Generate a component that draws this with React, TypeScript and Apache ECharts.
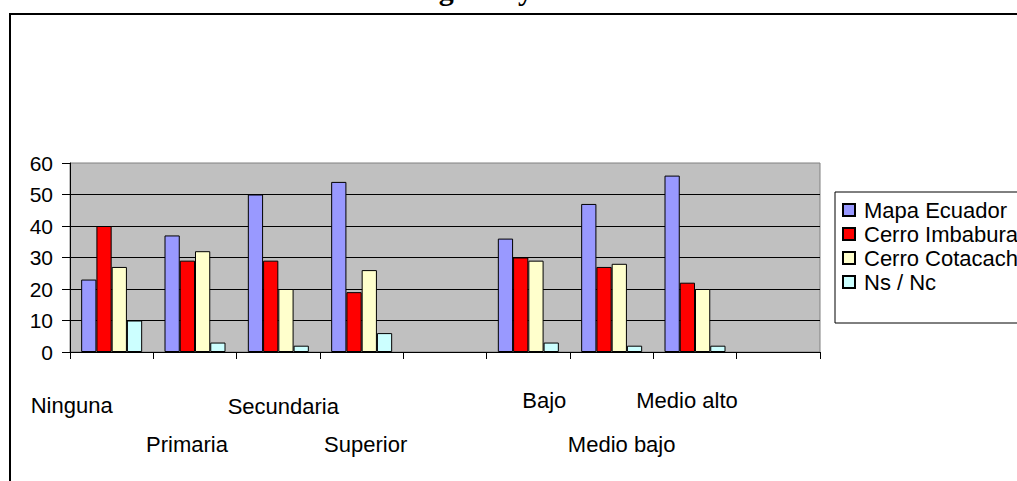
import React, { useEffect, useRef } from "react";
import * as echarts from "echarts";

const categories = ["Ninguna", "Primaria", "Secundaria", "Superior", "", "Bajo", "Medio bajo", "Medio alto", ""];
const seriesNames = ["Mapa Ecuador", "Cerro Imbabura", "Cerro Cotacachi", "Ns / Nc"];
const mapaEcuador = [23, 37, 50, 54, null, 36, 47, 56, null];
const cerroImbabura = [40, 29, 29, 19, null, 30, 27, 22, null];
const cerroCotacachi = [27, 32, 20, 26, null, 29, 28, 20, null];
const nsNc = [10, 3, 2, 6, null, 3, 2, 2, null];
const yTicks = [0, 10, 20, 30, 40, 50, 60];
const titleText = "Indígenas y mestizos";

// layout only: staggered label offsets (dx, dy) per category
const labelDx = [-40, -8, 5, 4, 0, 16, 10, -8, 0];
const labelDy = [2, 41, 3, 41, 0, -3, 41, -3, 0];

const colors = ["#9999FF", "#FF0000", "#FFFFCC", "#CCFFFF"];
const FONT = "'Liberation Sans', Arial, sans-serif";

export default function App() {
  const ref = useRef<HTMLDivElement>(null);
  useEffect(() => {
    document.body.style.margin = "0";
    if (!ref.current) return;
    const chart = echarts.init(ref.current, null, { renderer: "svg" });
    const rich: Record<string, any> = {};
    categories.forEach((_, i) => {
      const dx = labelDx[i];
      rich["c" + i] = {
        fontSize: 22,
        fontFamily: FONT,
        color: "#000",
        padding: [Math.max(0, labelDy[i] + 4), dx < 0 ? -2 * dx : 0, 0, dx > 0 ? 2 * dx : 0],
      };
    });
    const data = [mapaEcuador, cerroImbabura, cerroCotacachi, nsNc];
    chart.setOption({
      animation: false,
      backgroundColor: "#fff",
      graphic: [
        {
          type: "rect",
          shape: { x: 10, y: 14, width: 1200, height: 700 },
          style: { fill: "none", stroke: "#000", lineWidth: 2 },
          z: 100,
        },
        {
          type: "text",
          x: 517,
          y: 4,
          style: {
            text: titleText,
            font: "bold 30px 'Liberation Serif', 'Times New Roman', serif",
            fill: "#000",
            textAlign: "center",
            textVerticalAlign: "bottom",
          },
        },
      ],
      grid: {
        left: 70,
        right: 197,
        top: 163,
        bottom: 129,
        show: true,
        backgroundColor: "#C0C0C0",
        borderColor: "#808080",
        borderWidth: 1,
      },
      legend: {
        orient: "vertical",
        left: 835,
        top: 192,
        itemWidth: 12,
        itemHeight: 12,
        itemGap: 2,
        padding: [7, 80, 30, 7],
        backgroundColor: "#fff",
        borderColor: "#000",
        borderWidth: 1,
        icon: "rect",
        textStyle: { fontSize: 22, fontFamily: FONT, color: "#000", padding: [0, 0, 0, 4] },
        data: seriesNames,
      },
      xAxis: {
        type: "category",
        data: categories,
        axisLine: { lineStyle: { color: "#000", width: 1 } },
        axisTick: { show: true, interval: 0, length: 7, lineStyle: { color: "#000" } },
        splitLine: { show: false },
        axisLabel: {
          interval: 0,
          margin: 36,
          formatter: (v: string, i: number) => (v ? `{c${i}|${v}}` : ""),
          rich,
        },
      },
      yAxis: {
        type: "value",
        min: yTicks[0],
        max: yTicks[yTicks.length - 1],
        interval: 10,
        axisLine: { show: true, lineStyle: { color: "#000" } },
        axisTick: { show: true, length: 8, lineStyle: { color: "#000" } },
        axisLabel: { fontSize: 21, fontFamily: FONT, color: "#000", margin: 17 },
        splitLine: { show: true, showMaxLine: false, showMinLine: false, lineStyle: { color: "#000", width: 1 } },
      },
      series: seriesNames.map((name, k) => ({
        name,
        type: "bar",
        data: data[k],
        barWidth: 15.25,
        barGap: "0%",
        itemStyle: { color: colors[k], borderColor: "#000", borderWidth: 1 },
      })),
    });
    return () => chart.dispose();
  }, []);
  return <div ref={ref} style={{ width: 1017, height: 481 }} />;
}
